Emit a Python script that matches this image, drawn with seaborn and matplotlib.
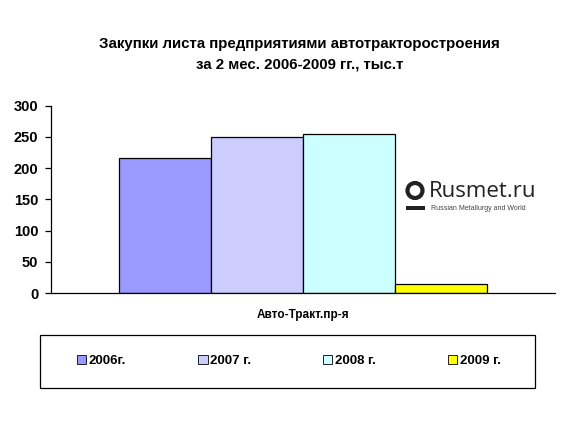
import pandas as pd
import matplotlib
matplotlib.use("Agg")
import matplotlib.pyplot as plt
from matplotlib.patches import Circle, Rectangle
import seaborn as sns

sns.set_style("white")
plt.rcParams['font.family'] = ['Liberation Sans', 'DejaVu Sans']
plt.rcParams['text.color'] = 'black'
plt.rcParams['xtick.color'] = 'black'
plt.rcParams['ytick.color'] = 'black'

category = ['Авто-Тракт.пр-я']
years = ['2006г.', '2007 г.', '2008 г.', '2009 г.']
values = [216, 250, 255, 14]
colors = ['#9999FF', '#CCCCFF', '#CCFFFF', '#FFFF00']

df = pd.DataFrame({
    'cat': category * len(years),
    'year': years,
    'value': values,
})

fig = plt.figure(figsize=(5.79, 4.29), dpi=100)
ax = fig.add_axes([0.088, 0.317, 0.871, 0.437])

sns.barplot(data=df, x='cat', y='value', hue='year', palette=colors,
            saturation=1, width=0.8, edgecolor='black', linewidth=0.9,
            ax=ax, legend=False)

ax.set_xlim(-0.548, 0.548)
ax.set_ylim(0, 300)
ax.set_yticks(range(0, 301, 50))
ax.set_xlabel('')
ax.set_ylabel('')
for s in ['top', 'right']:
    ax.spines[s].set_visible(False)
for s in ['left', 'bottom']:
    ax.spines[s].set_color('black')
    ax.spines[s].set_linewidth(0.9)
ax.tick_params(axis='y', left=True, length=4, width=0.9, direction='out',
               labelsize=10.5, pad=5)
ax.tick_params(axis='x', bottom=False, labelsize=8.5, pad=8)
for lbl in ax.get_yticklabels() + ax.get_xticklabels():
    lbl.set_fontweight('bold')

fig.text(0.517, 0.897, 'Закупки листа предприятиями автотракторостроения',
         ha='center', va='center', fontsize=10.8, fontweight='bold')
fig.text(0.517, 0.850, 'за 2 мес. 2006-2009 гг., тыс.т',
         ha='center', va='center', fontsize=10.8, fontweight='bold')

# watermark logo: ring over a bar, then the name
fig.patches.append(Circle((4.15, 2.385), 0.075, transform=fig.dpi_scale_trans,
                          fill=False, edgecolor='#222222', linewidth=3))
fig.patches.append(Rectangle((4.06, 2.19), 0.19, 0.045,
                             transform=fig.dpi_scale_trans,
                             facecolor='#222222', edgecolor='none'))
fig.text(0.740, 0.553, 'Rusmet.ru', fontsize=16, ha='left', va='center',
         color='#222222', family='Open Sans')
fig.text(0.744, 0.513, 'Russian Metallurgy and World', fontsize=5,
         ha='left', va='center', color='#444444')

# legend frame
fig.patches.append(Rectangle((40 / 579, 1 - 388 / 429), 495 / 579, 53 / 429,
                             transform=fig.transFigure, fill=False,
                             edgecolor='black', linewidth=0.9))
handles = [Rectangle((0, 0), 1, 1, facecolor=c, edgecolor='black',
                     linewidth=0.6) for c in colors]
fig.legend(handles, years, loc='center', bbox_to_anchor=(0.499, 1 - 361 / 429),
           ncol=4, frameon=False, handlelength=0.7, handleheight=0.7,
           handletextpad=0.2, columnspacing=5.45,
           prop={'weight': 'bold', 'size': 9.5})

fig.savefig('out.png', dpi=100)
